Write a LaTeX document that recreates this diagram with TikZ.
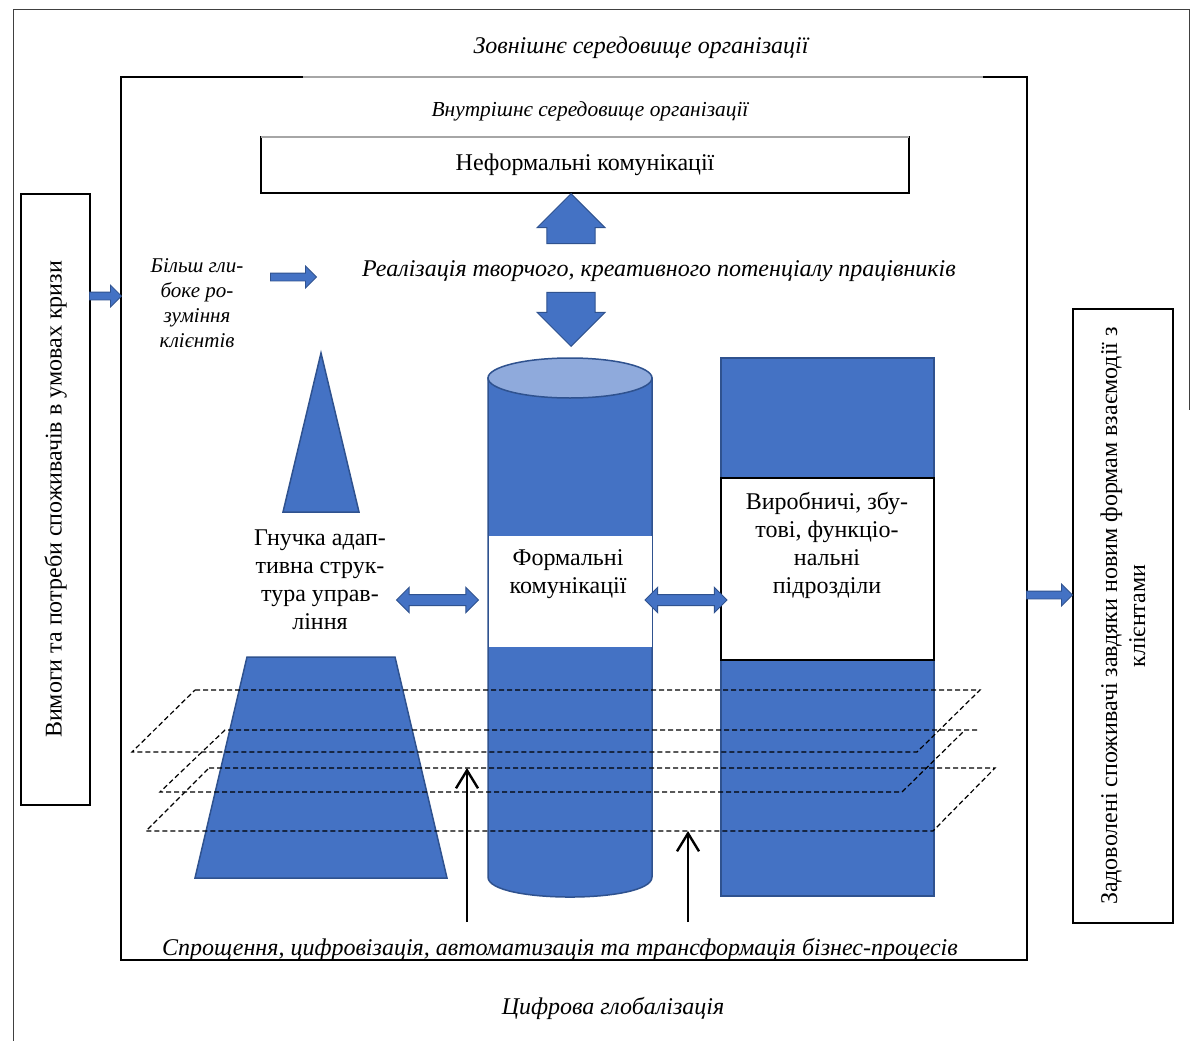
\documentclass[tikz,border=0pt]{standalone}
\usepackage{fontspec}
\setmainfont{Liberation Serif}
\usetikzlibrary{shapes.arrows,arrows.meta}

\definecolor{blueFill}{RGB}{68,114,196}
\definecolor{blueLine}{RGB}{47,82,143}
\definecolor{capFill}{RGB}{143,170,220}

\tikzset{
  txt/.style={inner sep=0pt, outer sep=0pt, align=center, font=\fontsize{24}{28}\selectfont},
  itxt/.style={txt, font=\fontsize{24}{28}\selectfont\itshape},
  box/.style={draw=black, line width=1.2pt, inner sep=0pt, outer sep=0pt},
  body/.style={fill=blueFill, draw=blueLine, line width=1.5pt},
  flatarrow/.style={single arrow, fill=blueFill, draw=blueLine, line width=0.8pt,
    inner xsep=0pt, inner ysep=3.5pt, minimum width=15pt, minimum height=32pt, anchor=tip},
  bigarrow/.style={single arrow, fill=blueFill, draw=blueLine, line width=1pt,
    inner xsep=0pt, inner ysep=17pt, minimum width=68pt, anchor=tip},
  twoarrow/.style={double arrow, fill=blueFill, draw=blueLine, line width=1pt,
    inner xsep=0pt, inner ysep=5pt, minimum width=22pt, minimum height=82pt},
  plane/.style={draw=black, line width=1.2pt, dash pattern=on 5pt off 3pt},
  thinup/.style={draw=black, line width=2.4pt, -{Straight Barb[length=18pt,width=22pt]}}
}

\begin{document}
\begin{tikzpicture}[x=1pt,y=-1pt]
\path[use as bounding box,fill=white] (0,0) rectangle (1191,1041);

% outer and inner frames
\path[draw=black!75,line width=1pt] (13,1041) -- (13,10) -- (1189,10) -- (1189,410);
\path[draw=black,line width=1.2pt] (303,77) -- (121,77) -- (121,960) -- (1027,960) -- (1027,77) -- (983,77);
\path[draw=black!35,line width=1.2pt] (303,77) -- (983,77);

\node[itxt] (outerlbl) at (641,48) {Зовнішнє середовище організації};
\node[itxt, font=\fontsize{21.4}{25}\selectfont\itshape] (innerlbl) at (590,111) {Внутрішнє середовище організації};

% side boxes
\node[box, txt, rotate=90, minimum width=611pt, minimum height=69pt] (needs) at (55.5,499.5)
  {Вимоги та потреби споживачів в умовах кризи};
\node[box, txt, rotate=90, minimum width=614pt, minimum height=100pt] (satisfied) at (1123,616)
  {Задоволені споживачі завдяки новим формам взаємодії з\\клієнтами};

\node[flatarrow] (inArrow) at (122,296) {};
\node[flatarrow, minimum height=46pt] (outArrow) at (1073,595) {};

% informal communications
\node[box, txt, minimum width=648pt, minimum height=56pt] (informal) at (585,165) {Неформальні комунікації};
\path[draw=black!35,line width=1.2pt] (informal.north west) -- (informal.north east);

\node[bigarrow, rotate=90, minimum height=50pt] (upArrow) at ([xshift=-14pt]informal.south) {};
\node[itxt] (creative) at (659,271) {Реалізація творчого, креативного потенціалу працівників};
\node[bigarrow, rotate=-90, minimum height=54pt] (downArrow) at (571,347) {};

\node[itxt, font=\fontsize{21}{25}\selectfont\itshape] (deeper) at (197,303) {Більш гли-\\боке ро-\\зуміння\\клієнтів};
\node[flatarrow, minimum width=17pt, minimum height=46pt] (deepArrow) at (317,277) {};

% flexible structure
\path[body] (321,353) -- (359,512) -- (283,512) -- cycle;
\path[body] (247,657) -- (395,657) -- (447,878) -- (195,878) -- cycle;
\node[txt] (flexible) at (320,580) {Гнучка адап-\\тивна струк-\\тура управ-\\ління};

% formal communications
\path[body] (488,378) -- (488,877) .. controls (488,903.7) and (652,903.7) .. (652,877) -- (652,378) -- cycle;
\path[fill=capFill,draw=blueLine,line width=1.5pt] (570,378) ellipse [x radius=82, y radius=20];
\path[fill=white] (488.5,536) rectangle (651.5,647);
\path[draw=blueLine,line width=0.8pt] (488,536) -- (488,647) (652,536) -- (652,647);
\node[txt] (formal) at (568,574) {Формальні\\комунікації};

% units
\path[body] (721,358) rectangle (934,896);
\path[box, fill=white] (721,478) rectangle (934,660);
\node[txt] (units) at (827,545) {Виробничі, збу-\\тові, функціо-\\нальні\\підрозділи};

\node[twoarrow] (leftLink) at (437.5,600) {};
\node[twoarrow] (rightLink) at (686,600) {};

% process planes
\path[plane] (195,690) -- (980,690) -- (917,752) -- (132,752) -- cycle;
\path[plane] (977,730) -- (225,730) -- (160,792) -- (902,792) -- (965,730);
\path[plane] (209,768) -- (995,768) -- (933,831) -- (146,831) -- cycle;

\coordinate (planeTop) at (467,768);
\coordinate (planeLow) at (688,831);
\coordinate (baseA) at (467,922);
\coordinate (baseB) at (688,922);
\draw[thinup] (baseA) -- (planeTop);
\draw[thinup] (baseB) -- (planeLow);

\node[itxt] (process) at (560,949) {Спрощення, цифровізація, автоматизація та трансформація бізнес-процесів};
\node[itxt] (global) at (613,1008) {Цифрова глобалізація};
\end{tikzpicture}
\end{document}
